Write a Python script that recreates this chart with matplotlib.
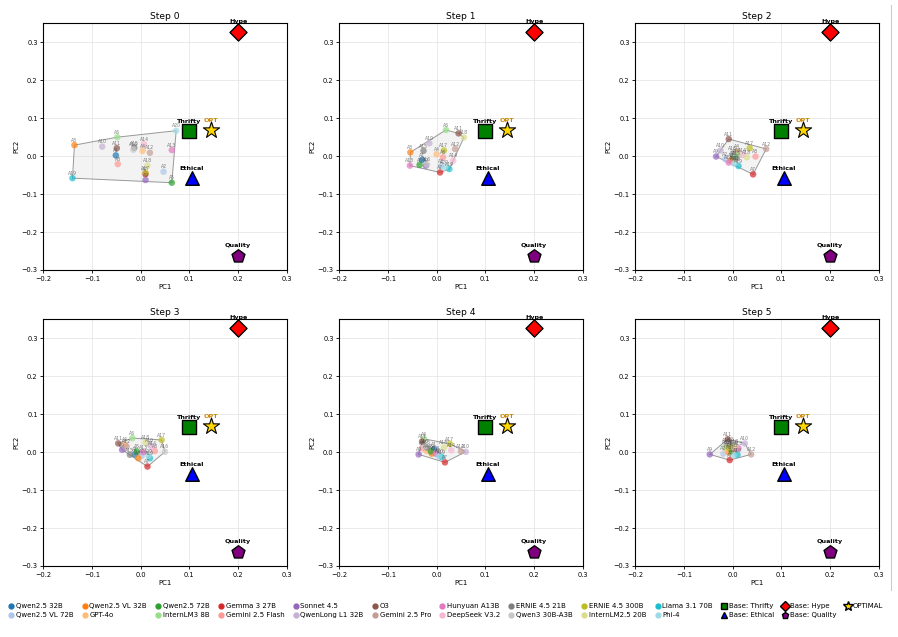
import numpy as np
import matplotlib
matplotlib.use("Agg")
import matplotlib.pyplot as plt
from matplotlib.lines import Line2D

models = ["Qwen2.5 32B", "Qwen2.5 VL 72B", "Qwen2.5 VL 32B", "GPT-4o", "Qwen2.5 72B",
          "InternLM3 8B", "Gemma 3 27B", "Gemini 2.5 Flash", "Sonnet 4.5", "QwenLong L1 32B",
          "O3", "Gemini 2.5 Pro", "Hunyuan A13B", "DeepSeek V3.2", "ERNIE 4.5 21B",
          "Qwen3 30B-A3B", "ERNIE 4.5 300B", "InternLM2.5 20B", "Llama 3.1 70B", "Phi-4"]
short = ["A%d" % (i + 1) for i in range(len(models))]

# PC1 / PC2 per step (A1..A20)
step0_x = [-0.051, 0.047, -0.136, 0.004, 0.064, -0.048, 0.010, -0.047, 0.010, -0.079,
           -0.049, 0.019, 0.064, 0.007, -0.013, -0.015, 0.010, 0.014, -0.140, 0.073]
step0_y = [0.002, -0.041, 0.029, 0.014, -0.070, 0.050, -0.047, -0.021, -0.063, 0.025,
           0.021, 0.009, 0.016, 0.032, 0.022, 0.017, -0.044, -0.025, -0.058, 0.067]
step1_x = [-0.030, 0.009, -0.054, 0.000, -0.035, 0.019, 0.007, 0.013, -0.022, -0.015,
           0.045, 0.038, -0.055, 0.034, -0.027, -0.020, 0.015, 0.056, 0.026, 0.017]
step1_y = [-0.010, -0.026, 0.010, 0.005, -0.023, 0.069, -0.043, -0.003, -0.025, 0.034,
           0.060, 0.019, -0.025, -0.012, 0.014, -0.022, 0.015, 0.049, -0.034, -0.030]
step2_x = [0.000, -0.015, -0.003, 0.009, 0.005, 0.012, 0.042, 0.047, -0.034, -0.025,
           -0.008, 0.069, -0.008, 0.020, 0.008, 0.000, 0.035, 0.029, 0.012, 0.003]
step2_y = [-0.005, -0.008, -0.010, 0.012, 0.000, 0.002, -0.048, -0.001, -0.001, 0.015,
           0.045, 0.019, -0.017, 0.003, -0.006, 0.008, 0.021, -0.003, -0.026, -0.020]
step3_x = [-0.012, 0.002, -0.005, -0.032, -0.008, -0.017, 0.014, 0.029, -0.038, 0.019,
           -0.046, -0.029, 0.005, 0.024, -0.022, 0.050, 0.043, 0.010, 0.019, 0.016]
step3_y = [-0.006, -0.010, -0.016, 0.020, 0.002, 0.037, -0.038, 0.003, 0.006, 0.019,
           0.023, 0.015, 0.000, 0.010, -0.007, 0.001, 0.032, 0.025, -0.016, -0.010]
step4_x = [-0.005, 0.003, -0.010, -0.021, -0.012, -0.026, 0.017, -0.030, -0.037, 0.060,
           -0.030, 0.050, -0.002, 0.030, -0.020, -0.025, 0.027, 0.015, 0.010, 0.005]
step4_y = [0.008, -0.008, -0.004, 0.003, 0.002, 0.035, -0.027, 0.010, -0.006, 0.001,
           0.028, 0.002, -0.004, 0.005, 0.012, 0.015, 0.022, 0.012, -0.013, -0.010]
step5_x = [-0.005, -0.019, -0.008, -0.012, -0.002, -0.015, -0.006, 0.005, -0.047, 0.025,
           -0.010, 0.038, 0.012, 0.000, -0.005, -0.012, -0.008, 0.003, 0.010, 0.002]
step5_y = [0.010, -0.004, 0.000, 0.005, 0.002, 0.014, -0.021, 0.005, -0.006, 0.023,
           0.034, -0.006, 0.010, 0.012, 0.020, 0.018, 0.012, 0.015, -0.007, -0.008]

steps_x = [step0_x, step1_x, step2_x, step3_x, step4_x, step5_x]
steps_y = [step0_y, step1_y, step2_y, step3_y, step4_y, step5_y]

# base personas + optimum
base_names = ["Thrifty", "Ethical", "Hype", "Quality"]
base_x = [0.100, 0.105, 0.200, 0.200]
base_y = [0.065, -0.058, 0.328, -0.262]
base_colors = ["green", "blue", "red", "purple"]
base_markers = ["s", "^", "D", "p"]
opt_x, opt_y = 0.144, 0.068

colors = plt.cm.tab20(np.arange(20))


def hull(pts):
    pts = sorted(map(tuple, pts))
    def cross(o, a, b):
        return (a[0] - o[0]) * (b[1] - o[1]) - (a[1] - o[1]) * (b[0] - o[0])
    lower, upper = [], []
    for p in pts:
        while len(lower) >= 2 and cross(lower[-2], lower[-1], p) <= 0:
            lower.pop()
        lower.append(p)
    for p in reversed(pts):
        while len(upper) >= 2 and cross(upper[-2], upper[-1], p) <= 0:
            upper.pop()
        upper.append(p)
    return np.array(lower[:-1] + upper[:-1])


fig, axes = plt.subplots(2, 3, figsize=(8.98, 6.37), dpi=100)
plt.subplots_adjust(left=0.0482, right=0.9785, bottom=0.1115, top=0.9634, wspace=0.216, hspace=0.2)

for k, ax in enumerate(axes.flat):
    xs = np.array(steps_x[k])
    ys = np.array(steps_y[k])
    h = hull(np.column_stack([xs, ys]))
    ax.fill(h[:, 0], h[:, 1], facecolor="lightgray", alpha=0.25, edgecolor="none", zorder=1)
    hc = np.vstack([h, h[:1]])
    ax.plot(hc[:, 0], hc[:, 1], color="gray", lw=0.7, alpha=0.8, zorder=2)
    for i in range(len(models)):
        ax.scatter(xs[i], ys[i], s=22, color=colors[i], alpha=0.7, edgecolors="none", zorder=3)
        ax.text(xs[i], ys[i] + 0.006, short[i], fontsize=3.3, ha="center", va="bottom",
                color="#444444", alpha=0.7, zorder=4)
    for n, bx, by, bc, bm in zip(base_names, base_x, base_y, base_colors, base_markers):
        sz = 95 if bm != "D" else 75
        ax.scatter(bx, by, s=sz, color=bc, marker=bm, edgecolors="black", linewidths=1.0, zorder=5)
        ax.text(bx, by + 0.019, n, fontsize=4.6, fontweight="bold", ha="center", va="bottom", zorder=6)
    ax.scatter(opt_x, opt_y, s=150, color="gold", marker="*", edgecolors="black", linewidths=0.8, zorder=5)
    ax.text(opt_x, opt_y + 0.02, "OPT", fontsize=4.6, fontweight="bold", color="#cc8800",
            ha="center", va="bottom", zorder=6)

    ax.set_xlim(-0.2, 0.3)
    ax.set_ylim(-0.3, 0.35)
    ax.set_xticks([-0.2, -0.1, 0.0, 0.1, 0.2, 0.3])
    ax.set_yticks([-0.3, -0.2, -0.1, 0.0, 0.1, 0.2, 0.3])
    ax.tick_params(labelsize=4.8, length=2.5, width=0.6, pad=1.5)
    ax.grid(color="#e6e6e6", lw=0.6)
    ax.set_axisbelow(True)
    for sp in ax.spines.values():
        sp.set_linewidth(0.8)
    ax.set_xlabel("PC1", fontsize=5, labelpad=1.5)
    ax.set_ylabel("PC2", fontsize=5, labelpad=1.5)
    ax.set_title("Step %d" % k, fontsize=6.6, pad=3)

handles = []
for i, m in enumerate(models):
    handles.append(Line2D([], [], marker="o", ls="", color=colors[i], markersize=3.5, label=m))
for j in range(len(base_names)):
    handles.append(Line2D([], [], marker=base_markers[j], ls="", markerfacecolor=base_colors[j],
                          markeredgecolor="black", markersize=5, label="Base: " + base_names[j]))
handles.append(Line2D([], [], marker="*", ls="", markerfacecolor="gold", markeredgecolor="black",
                      markersize=7, label="OPTIMAL"))

fig.legend(handles=handles, loc="center", bbox_to_anchor=(0.4955, 0.041), ncol=13, fontsize=5,
           frameon=False, handletextpad=0.1, columnspacing=1.0, handlelength=1.2, borderpad=0.2,
           labelspacing=0.4)

fig.add_artist(Line2D([0.992, 0.992], [0.074, 0.992], transform=fig.transFigure, color="#cccccc", lw=0.8))

plt.savefig("out.png", dpi=100)
